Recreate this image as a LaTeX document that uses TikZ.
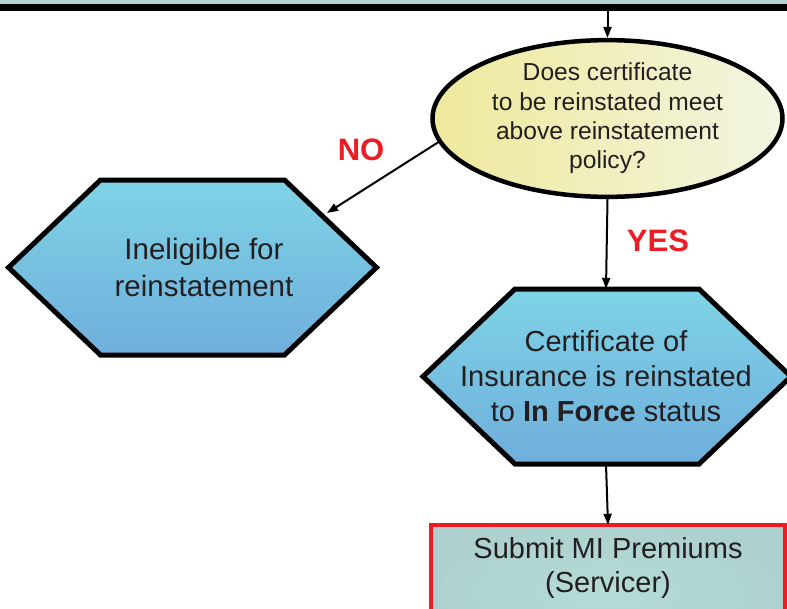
\documentclass[tikz,border=0pt]{standalone}
\usepackage{fontspec}
\setmainfont{Liberation Sans}
\usetikzlibrary{arrows.meta,shapes.geometric,calc}
\definecolor{txt}{HTML}{231F20}
\definecolor{lbl}{HTML}{ED1C24}
\definecolor{topfill}{HTML}{B0D3D2}
\definecolor{hexA}{HTML}{7ED3E6}
\definecolor{hexB}{HTML}{6FAEDC}
\definecolor{ellA}{HTML}{EFE99C}
\definecolor{ellB}{HTML}{F2F5E1}
\definecolor{recA}{HTML}{B4DCD6}
\definecolor{recB}{HTML}{AED1CF}
\newcommand{\hexpath}[2]{(#1-184,#2) -- (#1-92,#2-87.5) -- (#1+92,#2-87.5) -- (#1+184,#2) -- (#1+92,#2+87.5) -- (#1-92,#2+87.5) -- cycle}
\tikzset{
  hexlabel/.style={shape=rectangle, inner sep=0pt, align=center, text=txt},
  hexshape/.style={draw=black, line width=5pt, line join=miter, top color=hexA, bottom color=hexB},
  question/.style={ellipse, draw=black, line width=4.5pt, left color=ellA, right color=ellB, minimum width=350pt, minimum height=154pt, inner sep=0pt, align=center, text=txt, font=\fontsize{24.6}{29.3}\selectfont},
  actlabel/.style={rectangle, inner sep=0pt, minimum width=354pt, minimum height=86pt, align=center, text=txt, font=\fontsize{29}{34}\selectfont},
  actshape/.style={draw=lbl, line width=4pt, inner color=recA, outer color=recB},
  topbox/.style={rectangle, draw=black, line width=7pt, fill=topfill, minimum width=840pt, minimum height=40pt, inner sep=0pt},
  flow/.style={draw=black, line width=2pt, -{Triangle[length=11pt,width=8pt]}},
  decision/.style={text=lbl, font=\fontsize{31}{31}\bfseries\selectfont}
}
\begin{document}
\begin{tikzpicture}[x=1pt,y=-1pt]
\clip (0,0) rectangle (787,608);
\node[topbox] (top) at (393,-12.5) {};
\node[question] (q) at (607.5,118.5) {Does certificate\\to be reinstated meet\\above reinstatement\\policy?};
\path[hexshape] \hexpath{192.5}{267.5};
\node[hexlabel, font=\fontsize{29.5}{37}\selectfont] (h1) at (204,267) {Ineligible for\\reinstatement};
\path[hexshape] \hexpath{607}{376.5};
\node[hexlabel, minimum width=368pt, minimum height=175pt, font=\fontsize{29}{35}\selectfont] (h2) at (606,376.5) {Certificate of\\Insurance is reinstated\\to \textbf{In Force} status};
\path[actshape] (431,525) rectangle (785,660);
\node[actlabel] (r) at (608,568) {Submit MI Premiums\\(Servicer)};
\coordinate (noend) at (327,213);
\draw[flow] (q.north |- top.south) -- (q.north);
\draw[flow] (q.188) -- (noend);
\draw[flow] (q.south) -- (h2.north);
\draw[flow] (h2.south) -- (r.north);
\node[decision] (no) at (361,150) {NO};
\node[decision] (yes) at (658,241) {YES};
\end{tikzpicture}
\end{document}
